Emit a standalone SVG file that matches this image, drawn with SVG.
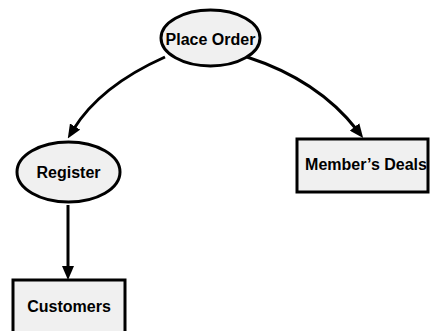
<svg xmlns="http://www.w3.org/2000/svg" width="430" height="331" viewBox="0 0 430 331">
  <style>
    .shape { fill: #f0f0f0; stroke: #000; stroke-width: 3; }
    .label { font-family: "Liberation Sans", Arial, sans-serif; font-weight: bold; font-size: 16px; fill: #000; text-anchor: middle; dominant-baseline: central; }
    .edge { fill: none; stroke: #000; stroke-width: 3; marker-end: url(#arrow); }
  </style>
  <defs>
    <marker id="arrow" markerUnits="userSpaceOnUse" markerWidth="14" markerHeight="12" refX="4" refY="6" orient="auto">
      <path d="M0,0 L14,6 L0,12 z" fill="#000"/>
    </marker>
  </defs>
  <rect width="430" height="331" fill="#fff"/>

  <g id="connectors">
    <path class="edge" d="M165,57 Q100,86 73,130"/>
    <path class="edge" d="M247,57 Q318,80 357,130"/>
    <path class="edge" d="M68,205 L68,270"/>
  </g>

  <g id="place-order">
    <ellipse class="shape" cx="210.5" cy="38" rx="49.5" ry="28"/>
    <text class="label" x="210.5" y="39">Place Order</text>
  </g>

  <g id="register">
    <ellipse class="shape" cx="68.5" cy="172" rx="51.5" ry="30"/>
    <text class="label" x="68.5" y="172">Register</text>
  </g>

  <g id="members-deals">
    <rect class="shape" x="297" y="139" width="131" height="53"/>
    <text class="label" x="366" y="164">Member’s Deals</text>
  </g>

  <g id="customers">
    <rect class="shape" x="13" y="280" width="112" height="60"/>
    <text class="label" x="69" y="306">Customers</text>
  </g>
</svg>
